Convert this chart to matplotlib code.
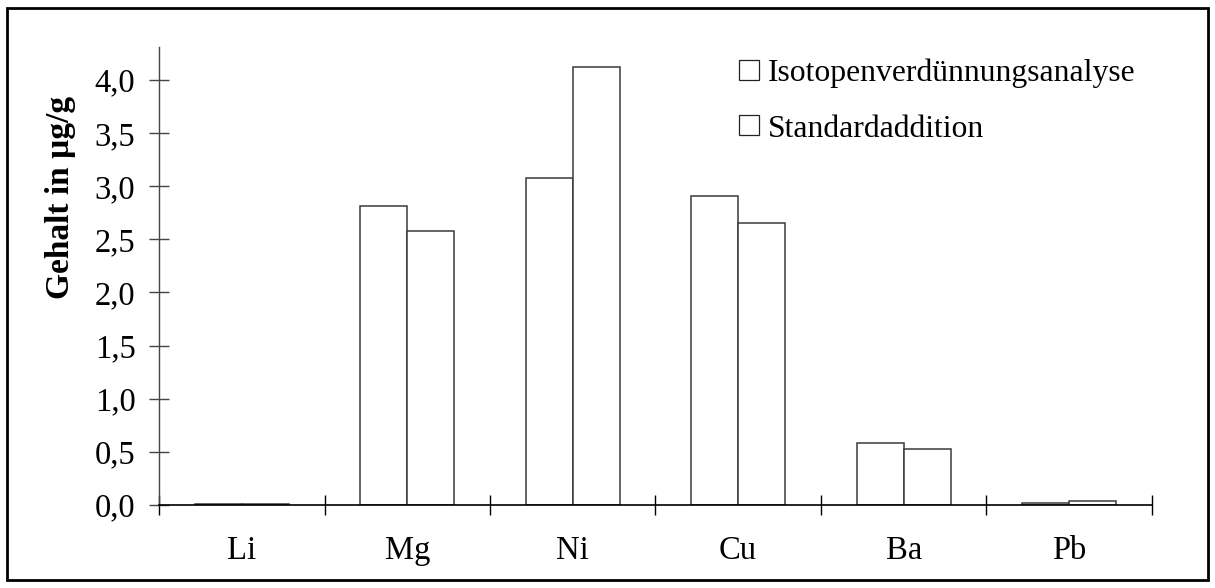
import matplotlib
matplotlib.use("Agg")
import matplotlib.pyplot as plt
from matplotlib.lines import Line2D
from matplotlib.patches import Rectangle
import numpy as np

elements = ["Li", "Mg", "Ni", "Cu", "Ba", "Pb"]
idms = [0.007, 2.81, 3.08, 2.91, 0.58, 0.016]
std_add = [0.010, 2.58, 4.12, 2.65, 0.524, 0.040]
series_names = ["Isotopenverdünnungsanalyse", "Standardaddition"]
yticks = [0.0, 0.5, 1.0, 1.5, 2.0, 2.5, 3.0, 3.5, 4.0]

plt.rcParams["font.family"] = ["Liberation Serif", "DejaVu Serif"]
FS = 23.5

fig = plt.figure(figsize=(12.15, 5.88), dpi=100)
ax = fig.add_axes([0.1309, 0.1412, 0.948 - 0.1309, 0.920 - 0.1412])

x = np.arange(len(elements))
w = 0.284
edge = "#3a3a3a"
ax.bar(x - w / 2, idms, width=w, facecolor="white", edgecolor=edge, linewidth=1.1)
ax.bar(x + w / 2, std_add, width=w, facecolor="white", edgecolor=edge, linewidth=1.1)

ax.set_xlim(-0.5, len(elements) - 0.5)
ax.set_ylim(0, 4.31)

for s in ["top", "right"]:
    ax.spines[s].set_visible(False)
ax.spines["left"].set_color("#444444")
ax.spines["left"].set_linewidth(1.0)
ax.spines["bottom"].set_color("black")
ax.spines["bottom"].set_linewidth(1.2)

ax.set_yticks(yticks)
ax.set_yticklabels([f"{v:.1f}".replace(".", ",") for v in yticks])
ax.tick_params(axis="y", direction="inout", length=14, width=1.0, color="#444444",
               labelsize=FS, pad=10)

ax.set_xticks(x)
ax.set_xticklabels(elements)
ax.tick_params(axis="x", which="major", length=0, labelsize=FS, pad=22)
ax.set_xticks(np.arange(len(elements) + 1) - 0.5, minor=True)
ax.tick_params(axis="x", which="minor", direction="inout", length=14, width=1.0,
               color="black")

fig.text(60 / 1215, 1 - 197 / 588, "Gehalt in µg/g", rotation=90, ha="center",
         va="center", fontsize=24, fontweight="bold")

handles = [Line2D([], [], linestyle="none", marker="s", markersize=14.5,
                  markerfacecolor="white", markeredgecolor="#222222",
                  markeredgewidth=0.9) for _ in series_names]
ax.legend(handles, series_names, loc="upper left", bbox_to_anchor=(0.5816, 0.974),
          frameon=False, fontsize=22.8, handletextpad=0.17, labelspacing=0.82,
          handlelength=0.82, borderpad=0, borderaxespad=0)

fig.patches.append(Rectangle((7 / 1215, 8 / 588), 1 - 14 / 1215, 1 - 16 / 588,
                             transform=fig.transFigure, fill=False,
                             edgecolor="black", linewidth=2))

fig.savefig("out.png", dpi=100, facecolor="white")
